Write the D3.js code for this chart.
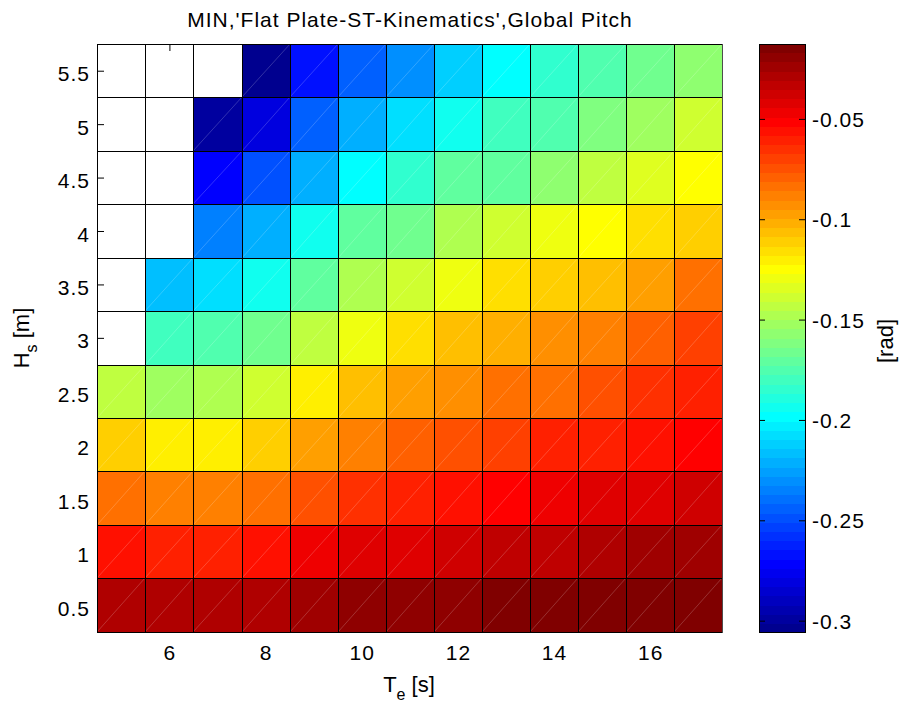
<!DOCTYPE html>
<html>
<head>
<meta charset="utf-8">
<script src="https://cdn.jsdelivr.net/npm/d3@7"></script>
<style>
  html, body { margin: 0; padding: 0; background: #fff; }
  svg { display: block; font-family: "Liberation Sans", Arial, sans-serif; }
  .tick text { font-size: 21px; letter-spacing: 1px; fill: #000; }
</style>
</head>
<body>
<svg id="chart" width="903" height="706"></svg>
<script>
// Wave period Te [s] (columns) and significant wave height Hs [m] (rows)
const te = [5, 6, 7, 8, 9, 10, 11, 12, 13, 14, 15, 16, 17];
const hs = [0.5, 1, 1.5, 2, 2.5, 3, 3.5, 4, 4.5, 5, 5.5];

// Minimum global pitch [rad] per Hs row, ordered by Te; null = no result
const pitchHs0_5 = [-0.0288, -0.0288, -0.0288, -0.0288, -0.0242, -0.0196, -0.0196, -0.0196, -0.0150, -0.0150, -0.0150, -0.0150, -0.0150];
const pitchHs1_0 = [-0.0563, -0.0609, -0.0609, -0.0563, -0.0471, -0.0425, -0.0425, -0.0379, -0.0333, -0.0333, -0.0288, -0.0242, -0.0242];
const pitchHs1_5 = [-0.0838, -0.0884, -0.0884, -0.0838, -0.0746, -0.0655, -0.0609, -0.0563, -0.0517, -0.0471, -0.0425, -0.0425, -0.0379];
const pitchHs2_0 = [-0.1113, -0.1205, -0.1205, -0.1113, -0.0976, -0.0884, -0.0792, -0.0746, -0.0700, -0.0609, -0.0609, -0.0563, -0.0517];
const pitchHs2_5 = [-0.1434, -0.1526, -0.1480, -0.1389, -0.1205, -0.1067, -0.0976, -0.0930, -0.0838, -0.0838, -0.0746, -0.0655, -0.0609];
const pitchHs3_0 = [null, -0.1801, -0.1756, -0.1664, -0.1434, -0.1297, -0.1159, -0.1067, -0.1022, -0.0930, -0.0884, -0.0792, -0.0700];
const pitchHs3_5 = [null, -0.2168, -0.2077, -0.1939, -0.1710, -0.1480, -0.1389, -0.1297, -0.1159, -0.1113, -0.1067, -0.0976, -0.0838];
const pitchHs4_0 = [null, null, -0.2352, -0.2214, -0.1939, -0.1710, -0.1664, -0.1480, -0.1389, -0.1297, -0.1251, -0.1159, -0.1113];
const pitchHs4_5 = [null, null, -0.2719, -0.2490, -0.2214, -0.1985, -0.1847, -0.1710, -0.1710, -0.1572, -0.1434, -0.1343, -0.1251];
const pitchHs5_0 = [null, null, -0.2994, -0.2811, -0.2444, -0.2214, -0.2077, -0.1939, -0.1801, -0.1756, -0.1618, -0.1526, -0.1389];
const pitchHs5_5 = [null, null, null, -0.3040, -0.2673, -0.2444, -0.2306, -0.2123, -0.1985, -0.1847, -0.1756, -0.1664, -0.1572];
const pitchRows = [pitchHs0_5, pitchHs1_0, pitchHs1_5, pitchHs2_0, pitchHs2_5, pitchHs3_0,
                   pitchHs3_5, pitchHs4_0, pitchHs4_5, pitchHs5_0, pitchHs5_5];

// Colour limits and tick values
const colorLimits = [-0.3063, -0.0127];
const xTicks = [6, 8, 10, 12, 14, 16];
const yTicks = [0.5, 1, 1.5, 2, 2.5, 3, 3.5, 4, 4.5, 5, 5.5];
const cbTicks = [-0.3, -0.25, -0.2, -0.15, -0.1, -0.05];

const titleText = "MIN,'Flat Plate-ST-Kinematics',Global Pitch";

// 64-level jet colormap
function jet(m) {
  const n = Math.ceil(m / 4);
  const u = [];
  for (let i = 1; i <= n; i++) u.push(i / n);
  for (let i = 1; i < n; i++) u.push(1);
  for (let i = n; i >= 1; i--) u.push(i / n);
  const off = Math.ceil(n / 2) - (m % 4 === 1 ? 1 : 0);
  const map = Array.from({length: m}, () => [0, 0, 0]);
  u.forEach((val, k) => {
    const g = off + k + 1, r = g + n, b = g - n;
    if (r <= m) map[r - 1][0] = val;
    if (g <= m) map[g - 1][1] = val;
    if (b >= 1) map[b - 1][2] = val;
  });
  return map.map(c => d3.rgb(c[0] * 255, c[1] * 255, c[2] * 255).formatHex());
}
const cmap = jet(64);
const colorOf = v => {
  const t = (v - colorLimits[0]) / (colorLimits[1] - colorLimits[0]);
  const i = Math.max(0, Math.min(63, Math.floor(t * 64)));
  return cmap[i];
};

const svg = d3.select("#chart");

const x = d3.scaleLinear().domain([4.5, 17.5]).range([97.3, 722.3]);
const y = d3.scaleLinear().domain([0.25, 5.75]).range([631.7, 44]);
const px = v => Math.round(x(v));
const py = v => Math.round(y(v));
const plotLeft = px(4.5), plotRight = px(17.5), plotTop = py(5.75), plotBottom = py(0.25);

// Axes (ticks point inward and sit underneath the cells)
const fmt = d => String(d);
svg.append("g").attr("transform", `translate(${plotLeft},0)`)
  .call(d3.axisLeft(y).tickValues(yTicks).tickFormat(fmt).tickSizeInner(-7).tickSizeOuter(0).tickPadding(7))
  .call(g => g.select(".domain").remove())
  .call(g => g.selectAll(".tick text").attr("dy", "0.48em"));
svg.append("g").attr("transform", `translate(0,${plotBottom})`)
  .call(d3.axisBottom(x).tickValues(xTicks).tickFormat(fmt).tickSizeInner(-7).tickSizeOuter(0).tickPadding(13))
  .call(g => g.select(".domain").remove());
svg.append("g").attr("transform", `translate(0,${plotTop})`)
  .call(d3.axisTop(x).tickValues(xTicks).tickFormat("").tickSizeInner(-7).tickSizeOuter(0))
  .call(g => g.select(".domain").remove());
svg.append("g").attr("transform", `translate(${plotRight},0)`)
  .call(d3.axisRight(y).tickValues(yTicks).tickFormat("").tickSizeInner(-7).tickSizeOuter(0))
  .call(g => g.select(".domain").remove());

// Cells
const cells = [];
pitchRows.forEach((row, r) => row.forEach((v, c) => cells.push({te: te[c], hs: hs[r], v})));

const cellG = svg.append("g");
cellG.selectAll("rect.cell").data(cells.filter(d => d.v !== null)).join("rect")
  .attr("class", "cell")
  .attr("x", d => px(d.te - 0.5))
  .attr("y", d => py(d.hs + 0.25))
  .attr("width", d => px(d.te + 0.5) - px(d.te - 0.5))
  .attr("height", d => py(d.hs - 0.25) - py(d.hs + 0.25))
  .attr("fill", d => colorOf(d.v))
  .attr("shape-rendering", "crispEdges");

// Faint diagonal seam across each filled cell
cellG.selectAll("line.diag").data(cells.filter(d => d.v !== null)).join("line")
  .attr("class", "diag")
  .attr("x1", d => px(d.te - 0.5)).attr("y1", d => py(d.hs - 0.25))
  .attr("x2", d => px(d.te + 0.5)).attr("y2", d => py(d.hs + 0.25))
  .attr("stroke", "#ffffff").attr("stroke-opacity", 0.28).attr("stroke-width", 0.7);

// Cell edges
const edgesX = te.map(t => t - 0.5).concat([te[te.length - 1] + 0.5]);
const edgesY = hs.map(h => h - 0.25).concat([hs[hs.length - 1] + 0.25]);
cellG.selectAll("line.vx").data(edgesX).join("line")
  .attr("x1", d => px(d) + 0.5).attr("x2", d => px(d) + 0.5)
  .attr("y1", plotTop).attr("y2", plotBottom + 1)
  .attr("stroke", "#000").attr("stroke-width", 1).attr("shape-rendering", "crispEdges");
cellG.selectAll("line.hy").data(edgesY).join("line")
  .attr("y1", d => py(d) + 0.5).attr("y2", d => py(d) + 0.5)
  .attr("x1", plotLeft).attr("x2", plotRight + 1)
  .attr("stroke", "#000").attr("stroke-width", 1).attr("shape-rendering", "crispEdges");
svg.append("line")
  .attr("x1", plotRight + 0.5).attr("x2", plotRight + 0.5).attr("y1", plotTop).attr("y2", plotBottom + 1)
  .attr("stroke", "#4d4d4d").attr("shape-rendering", "crispEdges");

// Title and axis labels
svg.append("text").attr("x", 410).attr("y", 26.5).attr("text-anchor", "middle")
  .attr("font-size", 21).attr("letter-spacing", "1px").text(titleText);

const xl = svg.append("text").attr("x", 409).attr("y", 691.5).attr("text-anchor", "middle")
  .attr("font-size", 22);
xl.append("tspan").text("T");
xl.append("tspan").attr("font-size", 16).attr("dy", 8).text("e");
xl.append("tspan").attr("dy", -8).text(" [s]");

const yl = svg.append("text").attr("transform", "translate(28.5,338) rotate(-90)")
  .attr("text-anchor", "middle").attr("font-size", 22);
yl.append("tspan").text("H");
yl.append("tspan").attr("font-size", 16).attr("dy", 8).text("s");
yl.append("tspan").attr("dy", -8).text(" [m]");

// Colorbar
const cbLeft = 759, cbRight = 806;
const cb = d3.scaleLinear().domain(colorLimits).range([633.3, 44]);
const step = (colorLimits[1] - colorLimits[0]) / 64;
const bands = d3.range(64).map(i => ({i, v0: colorLimits[0] + i * step, v1: colorLimits[0] + (i + 1) * step}));
svg.append("g").selectAll("rect").data(bands).join("rect")
  .attr("x", cbLeft).attr("width", cbRight - cbLeft)
  .attr("y", d => Math.round(cb(d.v1)))
  .attr("height", d => Math.round(cb(d.v0)) - Math.round(cb(d.v1)))
  .attr("fill", d => cmap[d.i])
  .attr("shape-rendering", "crispEdges");
svg.append("rect").attr("x", cbLeft + 0.5).attr("y", Math.round(cb(colorLimits[1])) + 0.5)
  .attr("width", cbRight - cbLeft - 1)
  .attr("height", Math.round(cb(colorLimits[0])) - Math.round(cb(colorLimits[1])) - 1)
  .attr("fill", "none").attr("stroke", "#000").attr("shape-rendering", "crispEdges");
svg.append("g").attr("transform", `translate(${cbRight - 1},0)`)
  .call(d3.axisRight(cb).tickValues(cbTicks).tickFormat(fmt).tickSizeInner(-6).tickSizeOuter(0).tickPadding(7))
  .call(g => g.select(".domain").remove())
  .call(g => g.selectAll(".tick text").attr("dy", "0.36em"));
svg.append("g").attr("transform", `translate(${cbLeft},0)`)
  .call(d3.axisLeft(cb).tickValues(cbTicks).tickFormat("").tickSizeInner(-6).tickSizeOuter(0))
  .call(g => g.select(".domain").remove());

svg.append("text").attr("transform", "translate(893,341) rotate(-90)")
  .attr("text-anchor", "middle").attr("font-size", 22).text("[rad]");
</script>
</body>
</html>
